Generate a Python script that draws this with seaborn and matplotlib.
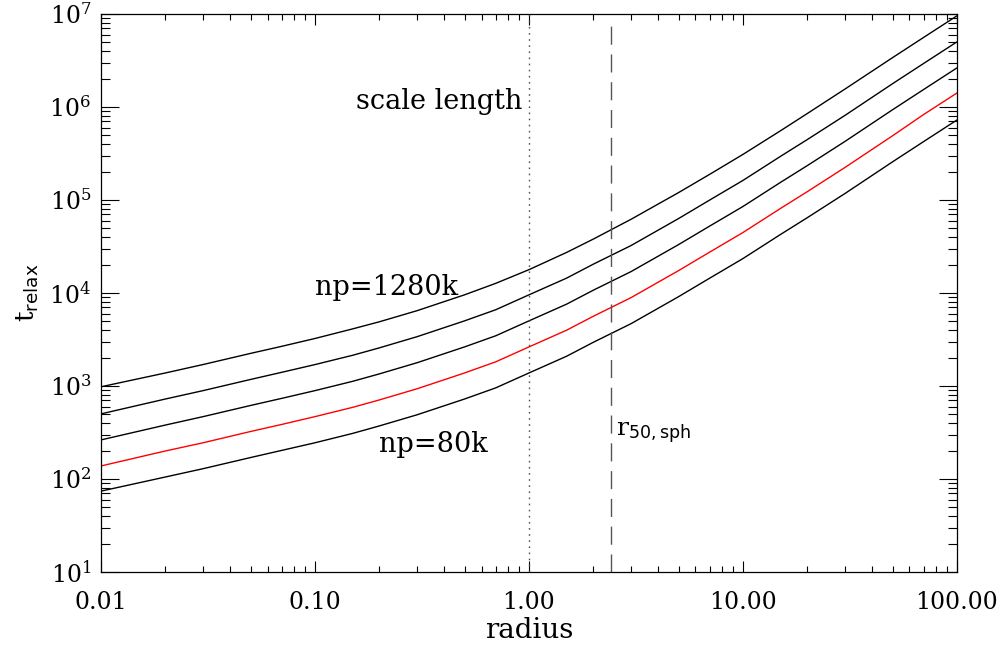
import matplotlib
matplotlib.use("Agg")
import matplotlib.pyplot as plt
import seaborn as sns
import pandas as pd
import numpy as np
from matplotlib.ticker import LogLocator, FixedLocator, NullFormatter, FixedFormatter

# ---- data ----
radius = [0.01, 0.02, 0.03, 0.05, 0.07, 0.1, 0.15, 0.2, 0.3, 0.5, 0.7, 1, 1.5, 2, 3, 5, 7,
          10, 15, 20, 30, 50, 70, 100]
t_1280k = [980, 1380, 1700, 2240, 2670, 3240, 4110, 4900, 6450, 9550, 12700, 17800, 27300,
           38000, 62000, 120000, 189000, 309000, 556000, 851000, 1560000, 3390000, 5610000, 9550000]
t_640k = [501, 724, 891, 1175, 1403, 1698, 2138, 2570, 3388, 5012, 6607, 9550, 14450, 20420,
          32360, 63100, 100000, 162200, 295100, 446700, 812800, 1778000, 2944000, 5012000]
t_320k = [263, 380, 468, 617, 736, 891, 1122, 1349, 1778, 2630, 3467, 5012, 7586, 10720, 16980,
          33110, 52480, 85110, 154900, 234400, 426600, 933000, 1545000, 2630000]
t_160k = [138, 200, 245, 324, 386, 468, 589, 708, 933, 1380, 1820, 2630, 3981, 5623, 8913,
          17380, 27540, 44670, 81280, 123000, 223900, 489800, 831800, 1413000]
t_80k = [74, 105, 129, 170, 203, 245, 309, 372, 490, 724, 955, 1380, 2089, 2951, 4677, 9120,
         14450, 23440, 42660, 64570, 117500, 257000, 425600, 724400]
series_names = ["1280k", "640k", "320k", "160k", "80k"]
series_colors = ["black", "black", "black", "red", "black"]

scale_length = 1.0
r50_sph = 2.42

x_ticks = [0.01, 0.1, 1, 10, 100]
x_ticklabels = ["0.01", "0.10", "1.00", "10.00", "100.00"]
y_ticks = [1e1, 1e2, 1e3, 1e4, 1e5, 1e6, 1e7]
y_ticklabels = [r"$10^{%d}$" % i for i in range(1, 8)]

# ---- build frame ----
frames = []
for name, vals in zip(series_names, [t_1280k, t_640k, t_320k, t_160k, t_80k]):
    frames.append(pd.DataFrame({"radius": radius, "t": vals, "np": name}))
df = pd.concat(frames, ignore_index=True)

sns.set_style("ticks")
plt.rcParams["font.family"] = ["DejaVu Serif"]
plt.rcParams["mathtext.fontset"] = "dejavuserif"
for k in ["text.color", "axes.labelcolor", "xtick.color", "ytick.color", "axes.edgecolor"]:
    plt.rcParams[k] = "black"

fig = plt.figure(figsize=(10.05, 6.46), dpi=100)
ax = fig.add_axes([0.1005, 0.1146, 0.8517, 0.8638])

sns.lineplot(data=df, x="radius", y="t", hue="np", palette=dict(zip(series_names, series_colors)),
             legend=False, ax=ax, linewidth=1.0, sort=False, estimator=None)

ax.set_xscale("log")
ax.set_yscale("log")
ax.set_xlim(0.01, 100)
ax.set_ylim(10, 1e7)

# reference lines
ax.axvline(scale_length, color="#555555", linestyle=(0, (1.2, 3.2)), linewidth=1.0)
ax.plot([r50_sph, r50_sph], [10, 10 ** 6.92], color="#555555", linestyle=(0, (13, 7)), linewidth=1.0)

# ticks
ax.xaxis.set_major_locator(FixedLocator(x_ticks))
ax.xaxis.set_major_formatter(FixedFormatter(x_ticklabels))
ax.xaxis.set_minor_locator(LogLocator(base=10, subs=np.arange(2, 10)))
ax.xaxis.set_minor_formatter(NullFormatter())
ax.yaxis.set_major_locator(FixedLocator(y_ticks))
ax.yaxis.set_major_formatter(FixedFormatter(y_ticklabels))
ax.yaxis.set_minor_locator(LogLocator(base=10, subs=np.arange(2, 10)))
ax.yaxis.set_minor_formatter(NullFormatter())

ax.tick_params(axis="both", which="both", direction="in", top=True, right=True, width=0.8, color="black")
ax.tick_params(axis="x", which="major", length=8, pad=14)
ax.tick_params(axis="x", which="minor", length=4.3)
ax.tick_params(axis="y", which="major", length=13, pad=7)
ax.tick_params(axis="y", which="minor", length=6.5)
for lab in ax.get_xticklabels():
    lab.set_fontsize(17)
for lab in ax.get_yticklabels():
    lab.set_fontsize(17)

for s in ax.spines.values():
    s.set_linewidth(0.9)
    s.set_color("black")

ax.set_xlabel("radius", fontsize=20, labelpad=2)
ax.set_ylabel(r"t$_{\mathsf{relax}}$", fontsize=19, labelpad=6)

# annotations
ax.text(0.93, 10 ** 6.06, "scale length", ha="right", va="center", fontsize=19.5)
ax.text(0.1, 10 ** 4.06, "np=1280k", ha="left", va="center", fontsize=19.5)
ax.text(0.2, 10 ** 2.37, "np=80k", ha="left", va="center", fontsize=19.5)
ax.text(2.55, 290, r"r$_{\mathsf{50,sph}}$", ha="left", va="baseline", fontsize=18)

fig.savefig("out.png", dpi=100)
